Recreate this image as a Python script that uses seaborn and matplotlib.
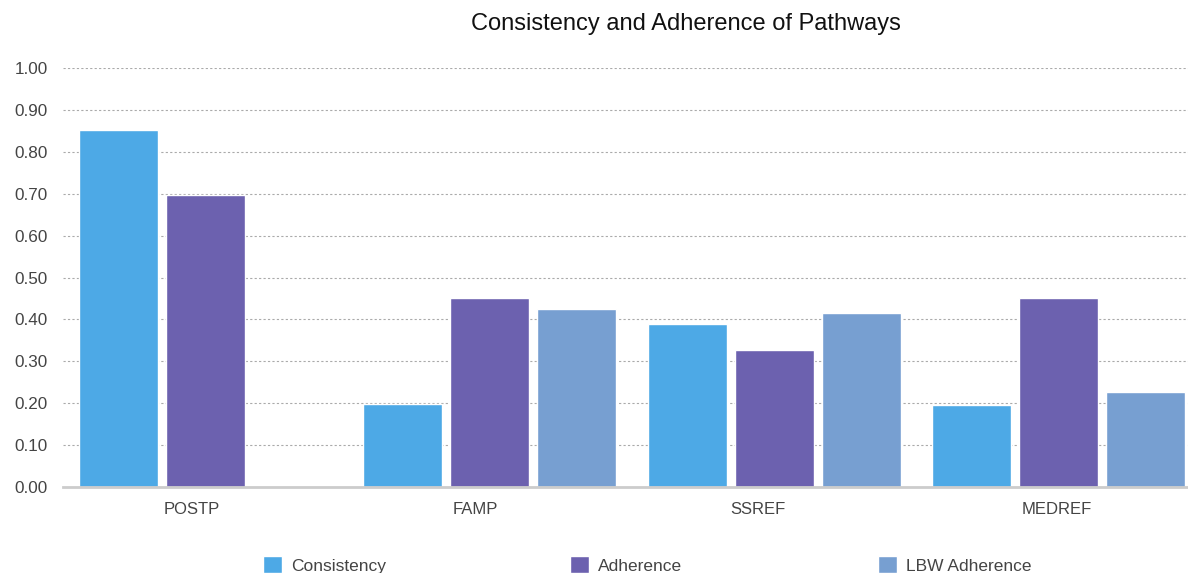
import matplotlib
matplotlib.use("Agg")
import matplotlib.pyplot as plt
import seaborn as sns
import pandas as pd

categories = ["POSTP", "FAMP", "SSREF", "MEDREF"]
series_names = ["Consistency", "Adherence", "LBW Adherence"]
consistency = [0.852, 0.198, 0.389, 0.196]
adherence = [0.697, 0.451, 0.327, 0.451]
lbw_adherence = [None, 0.425, 0.415, 0.227]
yticks = [0.0, 0.1, 0.2, 0.3, 0.4, 0.5, 0.6, 0.7, 0.8, 0.9, 1.0]

colors = ["#4DA9E6", "#6C61AF", "#779FD1"]

rows = []
for name, vals in zip(series_names, [consistency, adherence, lbw_adherence]):
    for cat, v in zip(categories, vals):
        if v is not None:
            rows.append({"Pathway": cat, "Series": name, "Value": v})
df = pd.DataFrame(rows)

sns.set_theme(style="white")
plt.rcParams["font.family"] = ["Liberation Sans", "DejaVu Sans"]

W, H = 1188, 573
fig = plt.figure(figsize=(W / 100, H / 100), dpi=100)
ax = fig.add_axes([63 / W, (H - 487) / H, (W - 63) / W, 419 / H])

sns.barplot(data=df, x="Pathway", y="Value", hue="Series",
            order=categories, hue_order=series_names,
            palette=colors, width=0.918, gap=0.092, ax=ax,
            saturation=1, legend=True, errorbar=None)

handles, labels = ax.get_legend_handles_labels()
ax.get_legend().remove()

ax.set_ylim(0, 1.0)
ax.set_xlim(-0.501, 3.456)
ax.set_yticks(yticks)
ax.set_yticklabels([f"{t:.2f}" for t in yticks])
# category labels sit a little left of each bar group
ax.set_xticks([-0.047, 0.948, 1.943, 2.995])
ax.set_xticklabels(categories)
ax.set_xlabel("")
ax.set_ylabel("")
ax.yaxis.grid(True, linestyle=(0, (2, 2)), color="#aaaaaa", linewidth=0.8)
ax.set_axisbelow(True)
for s in ["top", "right", "left"]:
    ax.spines[s].set_visible(False)
ax.spines["bottom"].set_color("#cccccc")
ax.spines["bottom"].set_linewidth(2)
ax.tick_params(axis="both", length=0, labelcolor="#444444")
ax.tick_params(axis="y", pad=11, labelsize=12.3)
ax.tick_params(axis="x", pad=11, labelsize=12)

fig.text(686 / W, 1 - 24 / H, "Consistency and Adherence of Pathways",
         ha="center", va="center", fontsize=17, color="#111111")

legend_x = [254, 561, 869]
for h, l, x in zip(handles, labels, legend_x):
    fig.legend([h], [l], loc="center left", bbox_to_anchor=(x / W, 1 - 565 / H),
               frameon=False, fontsize=12.5, handlelength=1.1, handleheight=1.1,
               handletextpad=0.55, borderpad=0, labelcolor="#444444")

fig.savefig("out.png", dpi=100)
